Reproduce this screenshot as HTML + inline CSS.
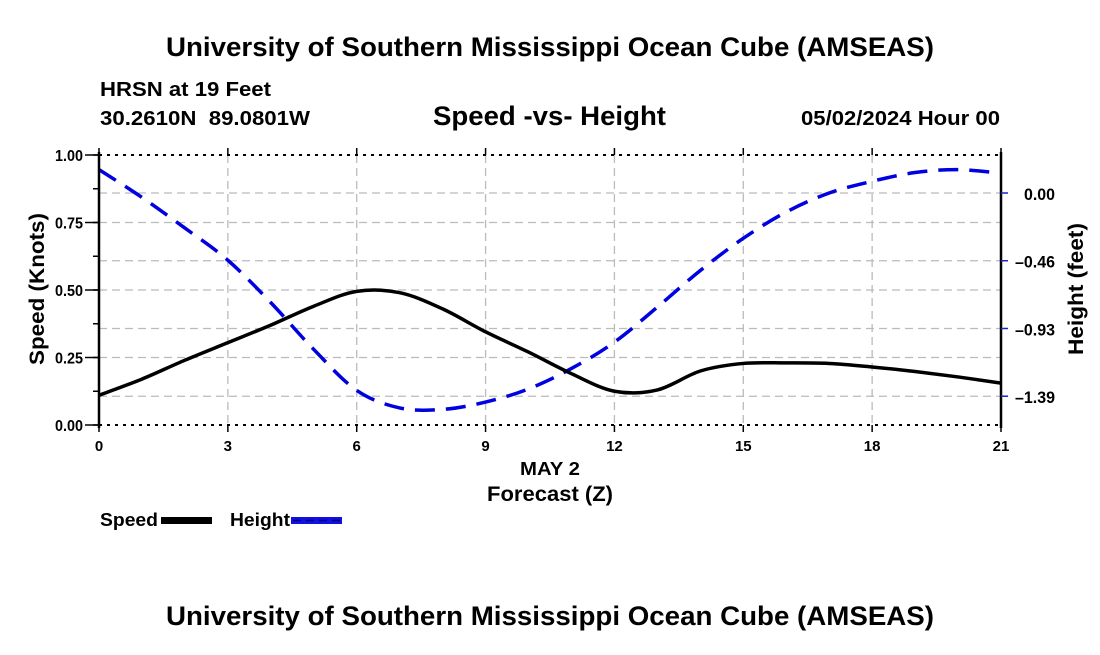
<!DOCTYPE html>
<html><head><meta charset="utf-8"><style>
body{margin:0;background:#fff;width:1100px;height:650px;overflow:hidden;font-family:"Liberation Sans",Arial,sans-serif}
</style></head><body>
<svg id="c" width="1100" height="650" xmlns="http://www.w3.org/2000/svg" font-family="Liberation Sans, Arial, sans-serif" font-weight="bold">
<text x="166" y="56" font-size="27" textLength="768" lengthAdjust="spacingAndGlyphs">University of Southern Mississippi Ocean Cube (AMSEAS)</text>
<text x="100" y="96" font-size="20" textLength="171" lengthAdjust="spacingAndGlyphs">HRSN at 19 Feet</text>
<text x="100" y="125" font-size="20" textLength="210" lengthAdjust="spacingAndGlyphs" xml:space="preserve">30.2610N  89.0801W</text>
<text x="433" y="125" font-size="27" textLength="233" lengthAdjust="spacingAndGlyphs">Speed -vs- Height</text>
<text x="801" y="125" font-size="20" textLength="199" lengthAdjust="spacingAndGlyphs">05/02/2024 Hour 00</text>
<g id="grid"></g>
<g id="series"></g>
<g id="axes"></g>
<text x="520" y="475" font-size="18" textLength="60" lengthAdjust="spacingAndGlyphs">MAY 2</text>
<text x="487" y="501" font-size="21" textLength="126" lengthAdjust="spacingAndGlyphs">Forecast (Z)</text>
<text transform="translate(44,365) rotate(-90)" font-size="21" textLength="152" lengthAdjust="spacingAndGlyphs">Speed (Knots)</text>
<text transform="translate(1083,355) rotate(-90)" font-size="21" textLength="132" lengthAdjust="spacingAndGlyphs">Height (feet)</text>
<g>
<g><text x="100" y="526" font-size="18" textLength="58" lengthAdjust="spacingAndGlyphs">Speed</text><rect x="161" y="517" width="51" height="7" fill="#000"/></g>
<g><text x="230" y="526" font-size="18" textLength="60" lengthAdjust="spacingAndGlyphs">Height</text><rect x="291" y="517" width="51" height="7" fill="#1010e0"/><line x1="293" y1="520.5" x2="342" y2="520.5" stroke="#000080" stroke-width="1.5" stroke-dasharray="8 5"/></g>
</g>
<text x="166" y="625" font-size="27" textLength="768" lengthAdjust="spacingAndGlyphs">University of Southern Mississippi Ocean Cube (AMSEAS)</text>
</svg>
<script>
const hours=[0,1,2,3,4,5,6,7,8,9,10,11,12,13,14,15,16,17,18,19,20,21];
const speed=[0.11,0.17,0.24,0.305,0.37,0.44,0.495,0.49,0.43,0.345,0.27,0.19,0.125,0.13,0.2,0.228,0.23,0.228,0.215,0.198,0.178,0.155];
const height=[0.16,-0.03,-0.24,-0.46,-0.75,-1.07,-1.35,-1.47,-1.48,-1.43,-1.34,-1.2,-1.02,-0.78,-0.53,-0.31,-0.13,0.0,0.08,0.14,0.16,0.135];
const xTicks=[0,3,6,9,12,15,18,21];
const leftTicks=[0,0.25,0.5,0.75,1.0];
const leftLabels=["0.00","0.25","0.50","0.75","1.00"];
const rightTicks=[0,-0.4633,-0.9267,-1.39];
const rightLabels=["0.00","\u20130.46","\u20130.93","\u20131.39"];

const X0=99,X1=1001,Y0=425,Y1=155;
const NS="http://www.w3.org/2000/svg";
const sx=h=>X0+(h/21)*(X1-X0);
const sy=v=>Y0-v*(Y0-Y1);
const hy=v=>193-v*146.2;
function mk(p,tag,a){const e=document.createElementNS(NS,tag);for(const k in a)e.setAttribute(k,a[k]);p.appendChild(e);return e;}
const grid=document.getElementById('grid'),axes=document.getElementById('axes'),ser=document.getElementById('series');
const gs={stroke:"#bbb","stroke-width":1.3,"stroke-dasharray":"8 5"};
xTicks.forEach(t=>{if(t>0&&t<21){const l=mk(grid,'line',Object.assign({x1:sx(t),x2:sx(t),y1:Y1,y2:Y0},gs));

}});
leftTicks.forEach(t=>{if(t>0&&t<1){const l=mk(grid,'line',Object.assign({x1:X0,x2:X1,y1:sy(t),y2:sy(t)},gs));

}});
rightTicks.forEach(t=>{const l=mk(grid,'line',Object.assign({x1:X0,x2:X1,y1:hy(t),y2:hy(t)},gs));

});
function path(xs,ys){const p=xs.map((x,i)=>[x,ys[i]]);let d=`M${p[0][0]},${p[0][1]}`;
for(let i=0;i<p.length-1;i++){const a=p[Math.max(0,i-1)],b=p[i],c=p[i+1],e=p[Math.min(p.length-1,i+2)];
d+=` C${b[0]+(c[0]-a[0])/6},${b[1]+(c[1]-a[1])/6} ${c[0]-(e[0]-b[0])/6},${c[1]-(e[1]-b[1])/6} ${c[0]},${c[1]}`;}return d;}
const hp=mk(ser,'path',{d:path(hours.map(sx),height.map(hy)),fill:"none",stroke:"#0000e0","stroke-width":3.5,"stroke-dasharray":"20 11"});


const sp=mk(ser,'path',{d:path(hours.map(sx),speed.map(sy)),fill:"none",stroke:"#000","stroke-width":3.5});


mk(axes,'line',{x1:X0,x2:X1,y1:Y1,y2:Y1,stroke:"#000","stroke-width":2,"stroke-dasharray":"3 5"});
mk(axes,'line',{x1:X0,x2:X1,y1:Y0,y2:Y0,stroke:"#000","stroke-width":2,"stroke-dasharray":"3 5"});
mk(axes,'line',{x1:X0,x2:X0,y1:Y1-3,y2:Y0+3,stroke:"#000","stroke-width":2.5});
mk(axes,'line',{x1:X1,x2:X1,y1:Y1-3,y2:Y0+3,stroke:"#000","stroke-width":2.5});
xTicks.forEach(t=>{mk(axes,'line',{x1:sx(t),x2:sx(t),y1:Y0,y2:Y0+7,stroke:"#000","stroke-width":1.5});mk(axes,'line',{x1:sx(t),x2:sx(t),y1:Y1,y2:Y1-7,stroke:"#000","stroke-width":1.5});
const tx=mk(axes,'text',{x:sx(t),y:Y0+26,"font-size":15,"text-anchor":"middle"});tx.textContent=t;

});
for(let v=0;v<=1.001;v+=0.125){mk(axes,'line',{x1:X0-6,x2:X0,y1:sy(v),y2:sy(v),stroke:"#000","stroke-width":1.5});}
leftTicks.forEach((t,i)=>{mk(axes,'line',{x1:X0-14,x2:X0,y1:sy(t),y2:sy(t),stroke:"#000","stroke-width":1.5});
const tx=mk(axes,'text',{x:55,y:sy(t)+6,"font-size":16,textLength:28,lengthAdjust:"spacingAndGlyphs"});tx.textContent=leftLabels[i];

});
rightTicks.forEach((t,i)=>{mk(axes,'line',{x1:X1,x2:X1+7,y1:hy(t),y2:hy(t),stroke:"#2020c0","stroke-width":1.5});
const w=i===0?31:40;
const tx=mk(axes,'text',{x:1055-w,y:hy(t)+7,"font-size":17,textLength:w,lengthAdjust:"spacingAndGlyphs"});tx.textContent=rightLabels[i];

});
</script>
</body></html>
